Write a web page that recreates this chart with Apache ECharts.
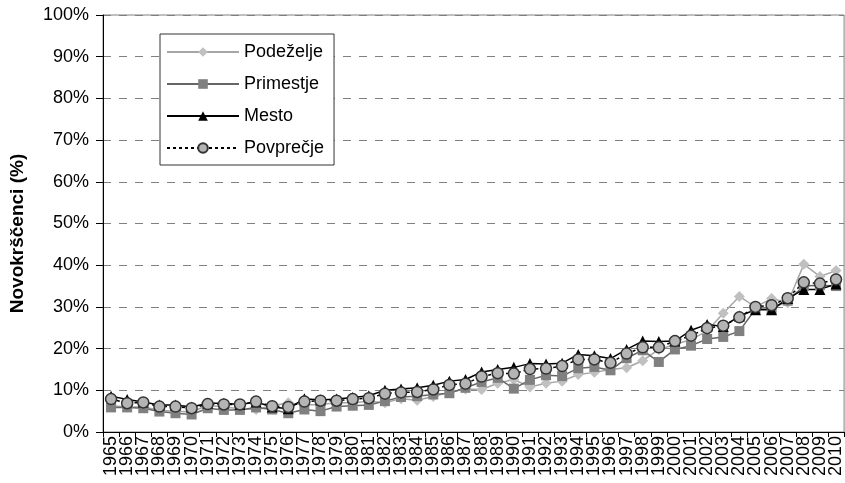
<!DOCTYPE html>
<html>
<head>
<meta charset="utf-8">
<script src="https://cdn.jsdelivr.net/npm/echarts@6/dist/echarts.min.js"></script>
<style>html,body{margin:0;padding:0;background:#fff}#c{width:845px;height:483px}</style>
</head>
<body>
<div id="c"></div>
<script>
var years = [];
for (var y = 1965; y <= 2010; y++) years.push(String(y));

var podezelje = [6.3, 6.0, 6.0, 5.2, 5.0, 4.8, 6.4, 6.0, 5.6, 5.4, 6.3, 7.0, 6.5, 6.6, 7.0, 7.0, 7.4, 7.0, 8.0, 7.6, 8.5, 9.5, 10.3, 10.2, 11.7, 12.6,
  10.8, 11.7, 12.2, 13.8, 14.3, 15.0, 15.4, 17.1, 19.8, 21.0, 22.2, 24.2, 28.5, 32.5, 30.0, 32.0, 31.0, 40.2, 37.3, 38.7];
var primestje = [5.9, 5.9, 5.7, 4.9, 4.5, 4.2, 5.7, 5.3, 5.3, 5.9, 5.4, 4.5, 5.4, 5.0, 6.1, 6.3, 6.5, 7.4, 8.4, 8.6, 9.0, 9.3, 10.6, 12.0, 13.0, 10.4,
  12.5, 13.6, 13.4, 15.3, 15.6, 14.8, 17.7, 19.6, 16.8, 19.8, 20.7, 22.3, 22.8, 24.2, 29.5, 29.5, 31.5, 35.0, 35.2, 35.0];
var mesto = [8.6, 7.8, 7.2, 6.5, 6.5, 6.0, 6.9, 6.9, 6.6, 7.2, 6.0, 5.6, 8.0, 7.7, 7.9, 8.3, 8.7, 10.0, 10.3, 10.6, 11.2, 12.2, 12.6, 14.4, 15.0, 15.5,
  16.4, 16.3, 16.5, 18.6, 18.3, 17.6, 19.8, 21.8, 21.7, 21.8, 24.4, 25.8, 25.3, 27.8, 29.3, 29.3, 32.0, 34.2, 34.2, 35.5];
var povprecje = [7.9, 6.9, 7.1, 6.1, 6.1, 5.7, 6.7, 6.6, 6.6, 7.3, 6.2, 6.0, 7.3, 7.5, 7.5, 7.9, 8.1, 9.2, 9.5, 9.6, 10.2, 11.3, 11.6, 13.3, 14.1, 14.0,
  15.1, 15.2, 15.8, 17.4, 17.4, 16.6, 18.8, 20.3, 20.3, 21.8, 23.1, 24.9, 25.5, 27.5, 30.0, 30.4, 32.1, 35.9, 35.6, 36.6];

var yTicks = [0, 10, 20, 30, 40, 50, 60, 70, 80, 90, 100];

var FONT = "'Liberation Sans', Arial, sans-serif";
var chart = echarts.init(document.getElementById('c'), null, {renderer: 'canvas'});
chart.setOption({
  animation: false,
  backgroundColor: '#ffffff',
  textStyle: {fontFamily: FONT},
  grid: {left: 103, top: 15, bottom: 51, width: 744, show: true, borderColor: '#808080', borderWidth: 1, backgroundColor: 'transparent'},
  legend: {
    orient: 'vertical', left: 160, top: 34,
    padding: [9, 10, 8, 6],
    itemWidth: 72, itemHeight: 12, itemGap: 14,
    backgroundColor: '#ffffff', borderColor: '#333333', borderWidth: 1,
    textStyle: {fontSize: 18, color: '#000', fontFamily: FONT},
    data: ['Podeželje', 'Primestje', 'Mesto', 'Povprečje']
  },
  xAxis: {
    type: 'category', data: years, boundaryGap: true,
    axisLine: {lineStyle: {color: '#000', width: 1}},
    axisTick: {show: true, length: 5, lineStyle: {color: '#000'}},
    axisLabel: {interval: 0, rotate: 90, fontSize: 18, color: '#000', margin: 4, fontFamily: FONT},
    splitLine: {show: false}
  },
  yAxis: {
    type: 'value', min: 0, max: 100, interval: 10,
    name: 'Novokrščenci (%)', nameLocation: 'middle', nameGap: 76,
    nameTextStyle: {fontSize: 19, fontWeight: 'bold', color: '#000', fontFamily: FONT, padding: [0, 20, 0, 0]},
    axisLine: {show: true, lineStyle: {color: '#000', width: 1}},
    axisTick: {show: true, length: 7, lineStyle: {color: '#000'}},
    axisLabel: {fontSize: 18, color: '#000', margin: 14, formatter: '{value}%', fontFamily: FONT},
    splitLine: {show: true, lineStyle: {color: '#808080', type: [8, 8], width: 1}}
  },
  series: [
    {name: 'Podeželje', type: 'line', data: podezelje, symbol: 'diamond', symbolSize: 11,
     lineStyle: {color: '#a6a6a6', width: 1.5}, itemStyle: {color: '#c0c0c0', borderWidth: 0}},
    {name: 'Primestje', type: 'line', data: primestje, symbol: 'rect', symbolSize: 10,
     lineStyle: {color: '#666666', width: 1.5}, itemStyle: {color: '#808080', borderWidth: 0}},
    {name: 'Mesto', type: 'line', data: mesto, symbol: 'triangle', symbolSize: 11,
     lineStyle: {color: '#000000', width: 1.5}, itemStyle: {color: '#000000', borderWidth: 0}},
    {name: 'Povprečje', type: 'line', data: povprecje, symbol: 'circle', symbolSize: 11,
     lineStyle: {color: '#000000', width: 1.5, type: [3, 3]}, itemStyle: {color: '#b4b4b4', borderColor: '#333333', borderWidth: 1.5}}
  ]
});
</script>
</body>
</html>
